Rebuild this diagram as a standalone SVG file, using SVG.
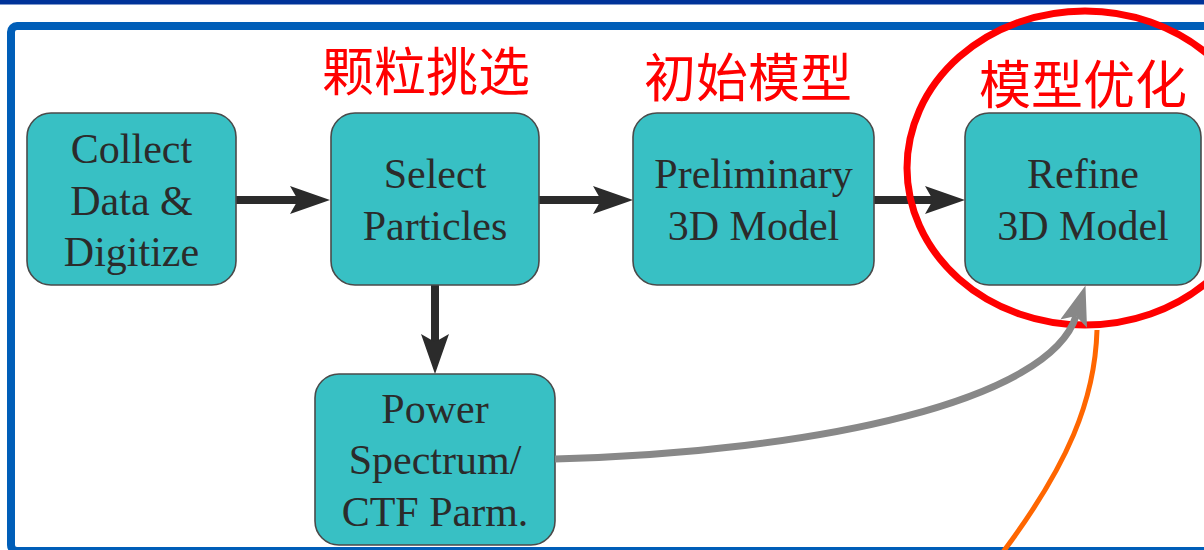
<svg xmlns="http://www.w3.org/2000/svg" width="1204" height="550" viewBox="0 0 1204 550">
  <style>
    .box { fill: #38c0c4; stroke: #4a4a4a; stroke-width: 1.6; }
    .lbl { font-family: "Liberation Serif", "Times New Roman", serif; font-size: 42px; fill: #2b2b2b; text-anchor: middle; }
    .cn { font-family: "Noto Sans CJK SC", "Noto Sans", sans-serif; font-size: 52px; fill: #ff0000; }
    .flow { fill: none; stroke: #2b2b2b; stroke-width: 8; }
    .feed { fill: none; stroke: #888888; stroke-width: 7; }
  </style>
  <defs>
    <marker id="head-dark" viewBox="0 0 40 28" refX="8" refY="14" markerWidth="40" markerHeight="28" markerUnits="userSpaceOnUse" orient="auto">
      <path d="M0,0 L40,14 L0,28 L8,14 Z" fill="#2b2b2b"/>
    </marker>
    <marker id="head-grey" viewBox="0 0 40 28" refX="8" refY="14" markerWidth="40" markerHeight="28" markerUnits="userSpaceOnUse" orient="auto">
      <path d="M0,0 L40,14 L0,28 L8,14 Z" fill="#888888"/>
    </marker>
  </defs>

  <rect width="1204" height="550" fill="#ffffff"/>
  <!-- slide header band and content frame -->
  <rect x="0" y="0" width="1204" height="4.5" fill="#003399"/>
  <rect x="11" y="26" width="1260" height="525" rx="6" fill="none" stroke="#005eb8" stroke-width="8"/>

  <!-- stage captions -->
  <g id="captions">
    <text class="cn" x="322" y="91">颗粒挑选</text>
    <text class="cn" x="644" y="97">初始模型</text>
    <text class="cn" x="979" y="104">模型优化</text>
  </g>

  <g id="connectors">
    <path class="flow" d="M236 200 H298" marker-end="url(#head-dark)"/>
    <path class="flow" d="M539 200 H601" marker-end="url(#head-dark)"/>
    <path class="flow" d="M874 200 H933" marker-end="url(#head-dark)"/>
    <path class="flow" d="M435 285 V342" marker-end="url(#head-dark)"/>
  </g>

  <g id="collect">
    <rect class="box" x="27" y="113" width="209" height="172" rx="24"/>
    <text class="lbl" x="131.5" y="163">Collect</text>
    <text class="lbl" x="131.5" y="215">Data &amp;</text>
    <text class="lbl" x="131.5" y="266">Digitize</text>
  </g>
  <g id="select">
    <rect class="box" x="331" y="113" width="208" height="172" rx="24"/>
    <text class="lbl" x="435" y="188">Select</text>
    <text class="lbl" x="435" y="240">Particles</text>
  </g>
  <g id="preliminary">
    <rect class="box" x="633" y="113" width="241" height="172" rx="24"/>
    <text class="lbl" x="753.5" y="188">Preliminary</text>
    <text class="lbl" x="753.5" y="240">3D Model</text>
  </g>
  <g id="refine">
    <rect class="box" x="965" y="113" width="236" height="172" rx="24"/>
    <text class="lbl" x="1083" y="188">Refine</text>
    <text class="lbl" x="1083" y="240">3D Model</text>
  </g>
  <g id="power">
    <rect class="box" x="315" y="374" width="240" height="171" rx="24"/>
    <text class="lbl" x="435" y="423">Power</text>
    <text class="lbl" x="435" y="474">Spectrum/</text>
    <text class="lbl" x="435" y="526">CTF Parm.</text>
  </g>

  <!-- highlight on the refinement stage -->
  <g id="highlight">
    <path d="M1097 330 C1095 400 1068 465 1003 552" fill="none" stroke="#ff6600" stroke-width="5"/>
    <ellipse cx="1085" cy="168" rx="178" ry="157" fill="none" stroke="#ff0000" stroke-width="7"/>
  </g>

  <g id="feedback">
    <path class="feed" d="M555 459 C820 452 1050 400 1076 316" marker-end="url(#head-grey)"/>
  </g>
</svg>
